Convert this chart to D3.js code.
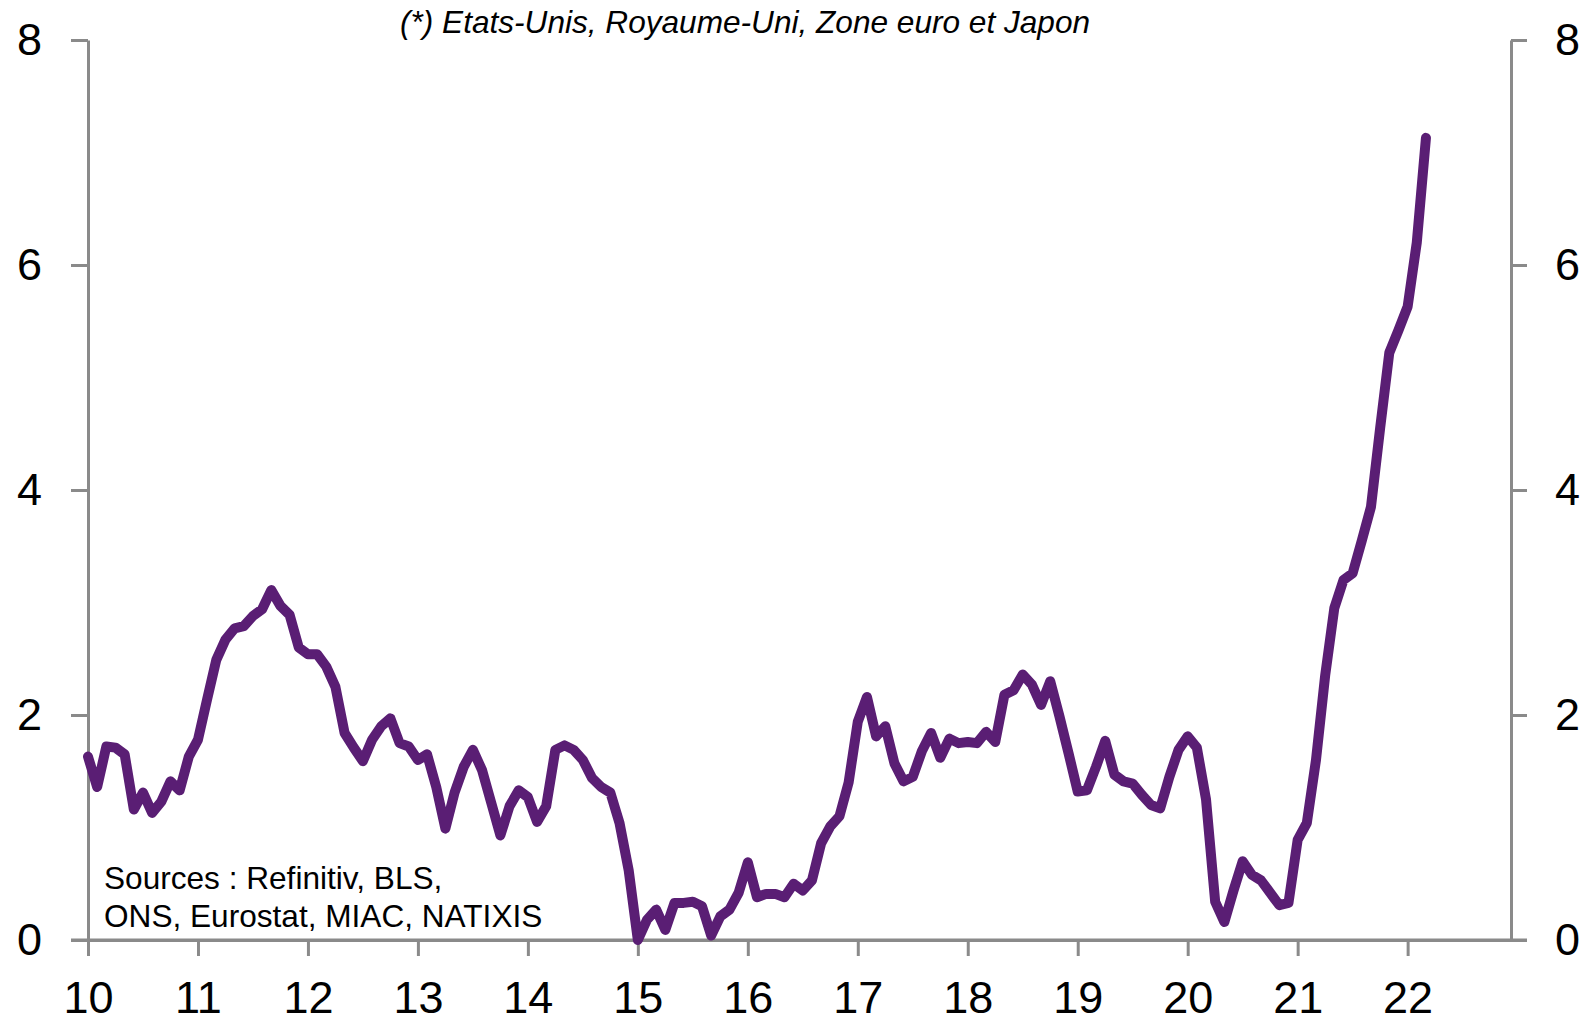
<!DOCTYPE html>
<html>
<head>
<meta charset="utf-8">
<script src="https://cdn.jsdelivr.net/npm/d3@7"></script>
<style>
  body { margin: 0; background: #fff; }
  svg text { font-family: "Liberation Sans", Arial, sans-serif; fill: #000; }
</style>
</head>
<body>
<svg id="chart" width="1588" height="1023"></svg>
<script>
"use strict";
// Monthly values, Jan 2010 -> Mar 2022 (%)
const startYear = 2010;
const values2010 = [1.63, 1.36, 1.72, 1.71, 1.65, 1.16, 1.31, 1.13, 1.23, 1.41, 1.33, 1.63];
const values2011 = [1.78, 2.14, 2.49, 2.67, 2.77, 2.79, 2.88, 2.94, 3.11, 2.97, 2.89, 2.60];
const values2012 = [2.54, 2.54, 2.43, 2.25, 1.84, 1.71, 1.59, 1.78, 1.90, 1.97, 1.75, 1.72];
const values2013 = [1.60, 1.65, 1.36, 0.99, 1.31, 1.54, 1.69, 1.51, 1.22, 0.93, 1.19, 1.33];
const values2014 = [1.27, 1.05, 1.19, 1.69, 1.73, 1.69, 1.60, 1.44, 1.36, 1.31, 1.04, 0.62];
const values2015 = [0.00, 0.18, 0.27, 0.09, 0.33, 0.33, 0.34, 0.30, 0.04, 0.21, 0.27, 0.42];
const values2016 = [0.69, 0.38, 0.41, 0.41, 0.38, 0.50, 0.44, 0.53, 0.86, 1.01, 1.10, 1.40];
const values2017 = [1.94, 2.16, 1.81, 1.90, 1.57, 1.41, 1.45, 1.68, 1.84, 1.62, 1.79, 1.75];
const values2018 = [1.76, 1.75, 1.85, 1.76, 2.18, 2.22, 2.36, 2.27, 2.09, 2.30, 1.99, 1.66];
const values2019 = [1.32, 1.33, 1.54, 1.77, 1.47, 1.41, 1.39, 1.29, 1.20, 1.17, 1.45, 1.69];
const values2020 = [1.81, 1.71, 1.25, 0.34, 0.16, 0.44, 0.70, 0.58, 0.53, 0.42, 0.31, 0.33];
const values2021 = [0.89, 1.04, 1.60, 2.35, 2.95, 3.20, 3.26, 3.55, 3.85, 4.55, 5.22, 5.42];
const values2022 = [5.63, 6.20, 7.13];

const yearTicks = d3.range(2010, 2023);
const valueTicks = [0, 2, 4, 6, 8];
const title = "(*) Etats-Unis, Royaume-Uni, Zone euro et Japon";
const sourceLines = ["Sources : Refinitiv, BLS,", "ONS, Eurostat, MIAC, NATIXIS"];

const series = [values2010, values2011, values2012, values2013, values2014, values2015,
  values2016, values2017, values2018, values2019, values2020, values2021, values2022]
  .flatMap((arr, i) => arr.map((v, m) => ({ t: startYear + i + m / 12, v })));

const svg = d3.select("#chart");
const axisColor = "#8a8a8a";
const lineColor = "#5a1e74";

const x = d3.scaleLinear().domain([2010, 2022.94]).range([88, 1511]);
const y = d3.scaleLinear().domain([0, 8]).range([940, 40]);

// left axis
const gLeft = svg.append("g")
  .attr("transform", `translate(${x.range()[0]},0)`)
  .call(d3.axisLeft(y).tickValues(valueTicks).tickSize(17).tickSizeOuter(0).tickPadding(29));
// right axis
const gRight = svg.append("g")
  .attr("transform", `translate(${x.range()[1]},0)`)
  .call(d3.axisRight(y).tickValues(valueTicks).tickSize(16).tickSizeOuter(0).tickPadding(28));
// bottom axis
const gBottom = svg.append("g")
  .attr("transform", `translate(0,${y(0)})`)
  .call(d3.axisBottom(x).tickValues(yearTicks).tickFormat((d) => String(d % 100))
    .tickSize(16).tickSizeOuter(0).tickPadding(25));

[gLeft, gRight, gBottom].forEach((g) => {
  g.selectAll("path.domain, line").attr("stroke", axisColor).attr("stroke-width", 3);
  g.selectAll("text")
    .attr("fill", "#000")
    .style("font-family", '"Liberation Sans", Arial, sans-serif');
});
gLeft.selectAll("text").style("font-size", "45px");
gRight.selectAll("text").style("font-size", "45px");
gBottom.selectAll("text").style("font-size", "45px");
// extend the x axis line under the outer y ticks
svg.append("line")
  .attr("x1", x.range()[0] - 17).attr("x2", x.range()[1] + 16)
  .attr("y1", y(0)).attr("y2", y(0))
  .attr("stroke", axisColor).attr("stroke-width", 3);

// series
const line = d3.line().x((d) => x(d.t)).y((d) => y(d.v));
svg.append("path")
  .datum(series)
  .attr("fill", "none")
  .attr("stroke", lineColor)
  .attr("stroke-width", 10)
  .attr("stroke-linejoin", "round")
  .attr("stroke-linecap", "round")
  .attr("d", line);

// title
svg.append("text")
  .attr("x", 745)
  .attr("y", 33)
  .attr("text-anchor", "middle")
  .style("font-size", "31.6px")
  .style("font-style", "italic")
  .text(title);

// sources
svg.append("g")
  .selectAll("text")
  .data(sourceLines)
  .join("text")
  .attr("x", 104)
  .attr("y", (d, i) => 889 + i * 37.5)
  .style("font-size", "31.6px")
  .text((d) => d);
</script>
</body>
</html>
